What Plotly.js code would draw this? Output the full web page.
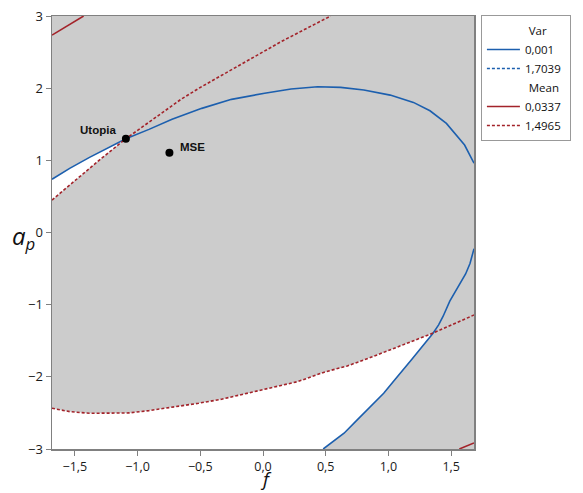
<!DOCTYPE html>
<html>
<head>
<meta charset="utf-8">
<script src="https://cdn.plot.ly/plotly-3.0.1.min.js"></script>
<style>html,body{margin:0;padding:0;background:#fff;}#chart{width:583px;height:493px;}</style>
</head>
<body>
<div id="chart"></div>
<script>
// ---- data ----
const xRange = [-1.682, 1.682];
const yRange = [-3, 3];

// Var = 0,001 contour (solid blue): upper branch and lower-right branch
const varUpperX = [-1.682, -1.541, -1.383, -1.225, -1.093, -0.909, -0.725, -0.488, -0.251, 0.013, 0.224, 0.435, 0.619, 0.804, 1.014, 1.199, 1.331, 1.462, 1.607, 1.682];
const varUpperY = [0.737, 0.889, 1.041, 1.188, 1.300, 1.429, 1.568, 1.720, 1.845, 1.930, 1.988, 2.020, 2.011, 1.974, 1.904, 1.803, 1.687, 1.512, 1.212, 0.960];
const varLowerX = [0.480, 0.566, 0.646, 0.751, 0.804, 0.962, 1.054, 1.120, 1.190, 1.258, 1.357, 1.400, 1.436, 1.489, 1.555, 1.615, 1.650, 1.682];
const varLowerY = [-3.000, -2.890, -2.781, -2.597, -2.504, -2.227, -2.035, -1.904, -1.750, -1.605, -1.392, -1.280, -1.160, -0.950, -0.755, -0.575, -0.430, -0.225];

// Var = 1,7039 contour (dashed blue): not visible inside the plotted region
const var2X = [null];
const var2Y = [null];

// Mean = 0,0337 contour (solid red): two corner pieces
const meanSolidUpperX = [-1.682, -1.430];
const meanSolidUpperY = [2.735, 3.000];
const meanSolidLowerX = [1.565, 1.682];
const meanSolidLowerY = [-3.000, -2.915];

// Mean = 1,4965 contour (dashed red): upper and lower branches
const meanDashUpperX = [-1.682, -1.500, -1.300, -1.093, -0.830, -0.650, -0.500, -0.250, 0.000, 0.150, 0.350, 0.540];
const meanDashUpperY = [0.450, 0.720, 1.010, 1.300, 1.630, 1.850, 2.010, 2.260, 2.500, 2.650, 2.830, 3.000];
const meanDashLowerX = [-1.682, -1.541, -1.383, -1.200, -1.067, -0.909, -0.714, -0.514, -0.330, -0.119, 0.080, 0.277, 0.488, 0.672, 0.860, 1.054, 1.200, 1.357, 1.520, 1.682];
const meanDashLowerY = [-2.435, -2.482, -2.505, -2.507, -2.500, -2.468, -2.420, -2.366, -2.310, -2.227, -2.150, -2.066, -1.935, -1.849, -1.730, -1.604, -1.500, -1.392, -1.270, -1.143];

// Points
const pointNames = ["Utopia", "MSE"];
const pointX = [-1.093, -0.746];
const pointY = [1.300, 1.105];

// Legend labels
const varTitle = "Var";
const meanTitle = "Mean";
const varLevels = ["0,001", "1,7039"];
const meanLevels = ["0,0337", "1,4965"];

// Axis titles
const xTitle = '<i>f</i>';
const yTitle = '<i>a<sub>p</sub></i>';

// ---- build traces ----
const blue = '#1c5fae';
const red = '#a3232a';
const dotted = '3px,2px';
const pad = '\u00a0'.repeat(14);

function join(ax, ay, bx, by) {
  return { x: ax.concat([null], bx), y: ay.concat([null], by) };
}

// White feasible region 1: between upper Var curve (above) and upper dashed Mean curve (below), left of Utopia
const utopiaX = pointX[0];
const r1x = [], r1y = [];
varUpperX.forEach((v, i) => { if (v <= utopiaX + 1e-9) { r1x.push(v); r1y.push(varUpperY[i]); } });
for (let i = meanDashUpperX.length - 1; i >= 0; i--) {
  if (meanDashUpperX[i] <= utopiaX + 1e-9) { r1x.push(meanDashUpperX[i]); r1y.push(meanDashUpperY[i]); }
}

// White feasible region 2: below lower dashed Mean curve, left of lower Var curve
const crossX = 1.357;
const r2x = [], r2y = [];
meanDashLowerX.forEach((v, i) => { if (v <= crossX + 1e-9) { r2x.push(v); r2y.push(meanDashLowerY[i]); } });
for (let i = varLowerX.length - 1; i >= 0; i--) {
  if (varLowerX[i] <= crossX + 1e-9) { r2x.push(varLowerX[i]); r2y.push(varLowerY[i]); }
}
r2x.push(xRange[0]); r2y.push(yRange[0]);

const varSolid = join(varUpperX, varUpperY, varLowerX, varLowerY);
const meanSolid = join(meanSolidUpperX, meanSolidUpperY, meanSolidLowerX, meanSolidLowerY);
const meanDash = join(meanDashUpperX, meanDashUpperY, meanDashLowerX, meanDashLowerY);

const traces = [
  { x: r1x, y: r1y, type: 'scatter', mode: 'lines', fill: 'toself', fillcolor: '#ffffff', line: { width: 0 }, showlegend: false, hoverinfo: 'skip' },
  { x: r2x, y: r2y, type: 'scatter', mode: 'lines', fill: 'toself', fillcolor: '#ffffff', line: { width: 0 }, showlegend: false, hoverinfo: 'skip' },
  { x: varSolid.x, y: varSolid.y, type: 'scatter', mode: 'lines', name: varLevels[0], legendgroup: 'var',
    legendgrouptitle: { text: pad + varTitle, font: { size: 11.5, color: '#111' } },
    line: { color: blue, width: 1.6 }, connectgaps: false },
  { x: var2X, y: var2Y, type: 'scatter', mode: 'lines', name: varLevels[1], legendgroup: 'var', showlegend: true,
    line: { color: blue, width: 1.6, dash: dotted } },
  { x: meanSolid.x, y: meanSolid.y, type: 'scatter', mode: 'lines', name: meanLevels[0], legendgroup: 'mean',
    legendgrouptitle: { text: pad + meanTitle, font: { size: 11.5, color: '#111' } },
    line: { color: red, width: 1.6 }, connectgaps: false },
  { x: meanDash.x, y: meanDash.y, type: 'scatter', mode: 'lines', name: meanLevels[1], legendgroup: 'mean',
    line: { color: red, width: 1.6, dash: dotted }, connectgaps: false },
  { x: pointX, y: pointY, type: 'scatter', mode: 'markers',
    marker: { color: '#000', size: 8 }, showlegend: false }
];

const labelFont = { family: 'Liberation Sans, Arial, sans-serif', size: 11.5, color: '#111', weight: 'bold' };

const layout = {
  width: 583, height: 493,
  margin: { l: 52, r: 105, t: 16, b: 44, pad: 0 },
  paper_bgcolor: '#ffffff',
  plot_bgcolor: '#cccccc',
  separators: ', ',
  font: { family: 'Open Sans, Noto Sans, sans-serif', size: 13, color: '#1a1a1a' },
  showlegend: true,
  legend: {
    x: 1.0164, y: 1.0023, xanchor: 'left', yanchor: 'top',
    bgcolor: '#ffffff', bordercolor: '#999999', borderwidth: 1,
    font: { size: 11.5, color: '#111' },
    traceorder: 'grouped', tracegroupgap: 0, itemwidth: 33
  },
  xaxis: {
    range: xRange, tick0: 0, dtick: 0.5, tickformat: '.1f',
    showgrid: false, zeroline: false,
    showline: true, linecolor: '#808080', linewidth: 1.5, mirror: true,
    ticks: 'outside', ticklen: 5, tickcolor: '#808080',
    tickfont: { size: 12.5 }
  },
  yaxis: {
    range: yRange, dtick: 1,
    showgrid: false, zeroline: false,
    showline: true, linecolor: '#808080', linewidth: 1.5, mirror: true,
    ticks: 'outside', ticklen: 5, tickcolor: '#808080'
  },
  annotations: [
    { text: xTitle, xref: 'x', yref: 'paper', x: 0, y: -0.1016, xanchor: 'center', yanchor: 'bottom',
      borderpad: 0, showarrow: false, xshift: 3,
      font: { size: 19, color: '#111', family: 'Open Sans, sans-serif' } },
    { text: yTitle, xref: 'paper', yref: 'y', x: -0.068, y: 0, xanchor: 'center', yanchor: 'middle',
      yshift: -4, showarrow: false, font: { size: 24, color: '#111', family: 'Open Sans, sans-serif' } },
    { text: pointNames[0], x: pointX[0], y: pointY[0], xref: 'x', yref: 'y', showarrow: false,
      xanchor: 'right', yanchor: 'middle', xshift: -8, yshift: 9, font: labelFont },
    { text: pointNames[1], x: pointX[1], y: pointY[1], xref: 'x', yref: 'y', showarrow: false,
      xanchor: 'left', yanchor: 'middle', xshift: 9, yshift: 6, font: labelFont }
  ]
};

Plotly.newPlot('chart', traces, layout, { displayModeBar: false, staticPlot: true });
</script>
</body>
</html>
